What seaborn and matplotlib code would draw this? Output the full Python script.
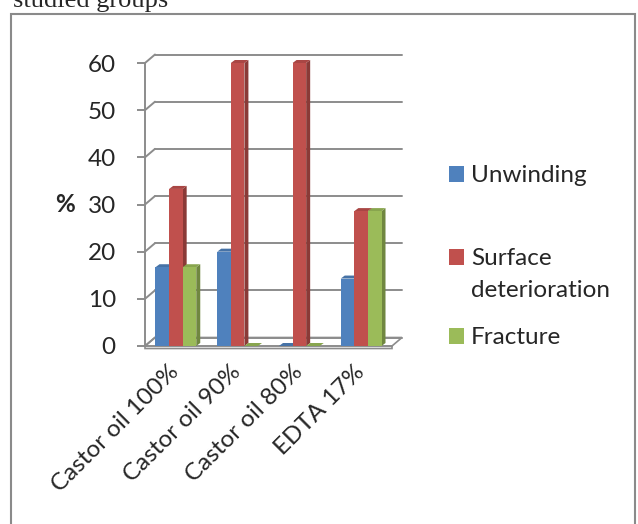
import matplotlib
matplotlib.use("Agg")
import matplotlib.pyplot as plt
import seaborn as sns
import pandas as pd
import numpy as np
import matplotlib.colors as mcolors
from matplotlib.patches import Polygon, Rectangle, Patch
from matplotlib.lines import Line2D
from matplotlib.transforms import IdentityTransform

# ---- data ----
categories = ["Castor oil 100%", "Castor oil 90%", "Castor oil 80%", "EDTA 17%"]
series = ["Unwinding", "Surface deterioration", "Fracture"]
unwinding = [16.7, 20.0, 0.0, 14.3]
surface_deterioration = [33.3, 60.0, 60.0, 28.6]
fracture = [16.7, 0.0, 0.0, 28.6]
y_ticks = [0, 10, 20, 30, 40, 50, 60]
colors = ["#4F81BD", "#C0504D", "#9BBB59"]

df = pd.DataFrame({
    "group": categories * 3,
    "series": [s for s in series for _ in categories],
    "value": unwinding + surface_deterioration + fracture,
})

sns.set_style("white")
plt.rcParams["font.family"] = ["Lato", "DejaVu Sans"]
FS = 17.5

W, H = 638, 524
fig = plt.figure(figsize=(W / 100, H / 100), dpi=100)
ax = fig.add_axes([145 / W, 1 - 346 / H, 247 / W, 283 / H])
ax.set_facecolor("none")

sns.barplot(data=df, x="group", y="value", hue="series", order=categories,
            hue_order=series, palette=colors, width=0.66, dodge=True,
            saturation=1, errorbar=None, legend=False, ax=ax,
            edgecolor="none", linewidth=0)

ax.set_xlim(-0.5, 3.5)
ax.set_ylim(0, 60)
ax.set_autoscale_on(False)
for s in ax.spines.values():
    s.set_visible(False)

grid_c = "#8c8c8c"
ax.set_yticks(y_ticks)
ax.set_yticklabels([str(t) for t in y_ticks], fontsize=FS)
ax.tick_params(axis="y", length=6, width=1.4, color=grid_c, pad=15, left=True)
ax.set_xticks(range(len(categories)))
ax.set_xticklabels(categories, rotation=45, ha="right", va="center",
                   rotation_mode="anchor", fontsize=FS)
ax.tick_params(axis="x", length=0, pad=16)
ax.set_xlabel("")
ax.set_ylabel("%", fontsize=FS, fontweight="bold", rotation=0,
              ha="center", va="center")
ax.yaxis.set_label_coords((65 - 145) / 247, (346 - 204) / 283)

# ---- pseudo-3D frame (computed from the axes' own transforms) ----
WALL = np.array([10.0, 8.5])
BAR = np.array([4.0, 3.0])
ytr = ax.get_yaxis_transform()
ID = IdentityTransform()

def add_line(p, q, **kw):
    ax.add_line(Line2D([p[0], q[0]], [p[1], q[1]], transform=ID, clip_on=False,
                       color=grid_c, lw=1.4, **kw))

# floor
f0 = ytr.transform((0, 0)); f1 = ytr.transform((1, 0))
slab = np.array([0, -2.5])
ax.add_patch(Polygon([f0 + slab, f1 + slab, f1, f1 + WALL, f0 + WALL, f0],
                     closed=True, transform=ID, clip_on=False, facecolor="white",
                     edgecolor=grid_c, lw=1.2, zorder=1))
add_line(f0, f1, zorder=1.1)

# back wall gridlines + diagonals
for t in y_ticks:
    a = ytr.transform((0, t)); b = ytr.transform((1, t))
    add_line(a + WALL, b + WALL, zorder=1.2)
    add_line(a, a + WALL, zorder=1.2)
add_line(ytr.transform((0, 0)), ytr.transform((0, 60)), zorder=1.2)

# bars: side and top faces derived from the seaborn bar patches
def shade(c, f):
    r, g, b = mcolors.to_rgb(c)
    return (r * f, g * f, b * f)

bars = sorted([p for p in ax.patches if isinstance(p, Rectangle) and p.get_transform() is not ID
               and p.get_width() < 1], key=lambda p: p.get_x())
for i, p in enumerate(bars):
    x0, w, h = p.get_x(), p.get_width(), p.get_height()
    fc = p.get_facecolor()
    z = 3 + i * 0.01
    T = ax.transData
    bl = T.transform((x0, 0)); br = T.transform((x0 + w, 0))
    tl = T.transform((x0, h)); tr = T.transform((x0 + w, h))
    ax.add_patch(Polygon([br, br + BAR, tr + BAR, tr], closed=True, transform=ID,
                         clip_on=False, facecolor=shade(fc, 0.72), edgecolor="none", zorder=z))
    ax.add_patch(Polygon([tl, tr, tr + BAR, tl + BAR], closed=True, transform=ID,
                         clip_on=False, facecolor=shade(fc, 0.88), edgecolor="none", zorder=z + 0.001))
    p.set_zorder(z + 0.002)

ax.set_xlim(-0.5, 3.5)
ax.set_ylim(0, 60)

# ---- legends ----
handles = [Patch(facecolor=c, edgecolor="none") for c in colors]
lkw = dict(frameon=False, fontsize=FS, handlelength=0.6, handleheight=0.6,
           handletextpad=0.3, borderpad=0, borderaxespad=0, loc="center left",
           bbox_transform=fig.transFigure)
leg1 = ax.legend([handles[0]], ["Unwinding"], bbox_to_anchor=(449 / W, 1 - 176 / H), **lkw)
ax.add_artist(leg1)
blank = Patch(facecolor="none", edgecolor="none")
leg2 = ax.legend([handles[1], blank], ["Surface", "deterioration"], labelspacing=0.42,
                 bbox_to_anchor=(449 / W, 1 - 274.5 / H), **lkw)
ax.add_artist(leg2)
leg3 = ax.legend([handles[2]], ["Fracture"], bbox_to_anchor=(449 / W, 1 - 338 / H), **lkw)

# ---- outer frame and caption fragment ----
fig.add_artist(Rectangle((11 / W, -0.02), (635 - 11) / W, 1 - 14 / H + 0.02,
                         transform=fig.transFigure, fill=False, edgecolor="#8a8a8a", lw=1.5))
fig.text(13 / W, 1 - 7 / H, "studied groups", fontsize=19, va="baseline", ha="left",
         family=["Liberation Serif", "DejaVu Serif"])

fig.savefig("out.png", dpi=100)
